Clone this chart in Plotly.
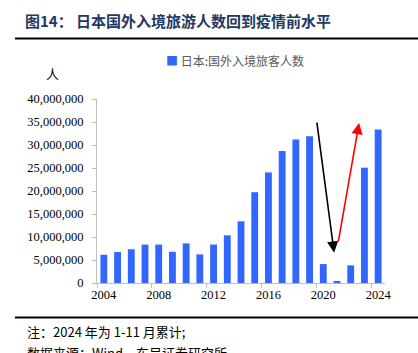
import plotly.graph_objects as go

years = list(range(2004, 2025))
visitors = [6138000, 6728000, 7334000, 8347000, 8351000, 6790000, 8611000, 6219000,
            8358000, 10364000, 13413000, 19737000, 24040000, 28691000, 31192000,
            31882000, 4116000, 246000, 3832000, 25066000, 33380000]
tick_years = [2004, 2008, 2012, 2016, 2020, 2024]
boundary_ticks = [2003.5, 2007.5, 2011.5, 2015.5, 2019.5, 2023.5]
y_ticks = list(range(0, 40000001, 5000000))
y_ticktext = [f"{v:,}" for v in y_ticks]

# arrow endpoints (tail -> head) in data coordinates
down_arrow = dict(x0=2019.52, y0=35200000, x1=2020.79, y1=6600000)
up_arrow = dict(x0=2021.08, y0=8700000, x1=2022.61, y1=34800000)

W, H = 418, 353
L, R, T, B = 97, 33, 99, 70
pw, ph = W - L - R, H - T - B
SERIF = "Liberation Serif, Times New Roman, serif"

def px(x):
    return (x - L) / pw

def py(y):
    return (H - B - y) / ph

fig = go.Figure()
fig.add_trace(go.Bar(x=years, y=visitors, width=0.5, marker_color="#3366FF",
                     marker_line_width=0, name="日本:国外入境旅客人数", showlegend=False))

fig.update_layout(
    width=W, height=H,
    margin=dict(l=L, r=R, t=T, b=B),
    paper_bgcolor="white", plot_bgcolor="white",
    font=dict(family=SERIF, size=12, color="black"),
    title=dict(text="<b>图14： 日本国外入境旅游人数回到疫情前水平</b>",
               xref="container", yref="container", x=25 / W, xanchor="left",
               y=1 - 22 / H, yanchor="middle",
               font=dict(family="Noto Sans CJK SC", size=15, color="#1F3864")),
    xaxis=dict(range=[2003.5, 2024.5], tickvals=tick_years, ticks="",
               showline=True, linecolor="#BFBFBF", linewidth=1, showgrid=False,
               zeroline=False, tickfont=dict(family=SERIF, size=12.5, color="black"),
               minor=dict(tickvals=boundary_ticks, ticks="outside", ticklen=4,
                          tickcolor="#BFBFBF", showgrid=False)),
    yaxis=dict(range=[0, 40000000], tickvals=y_ticks, ticktext=y_ticktext,
               ticks="outside", ticklen=4, tickcolor="#BFBFBF",
               showline=True, linecolor="#BFBFBF", linewidth=1, showgrid=False,
               zeroline=False, tickfont=dict(family=SERIF, size=12.5, color="black"),
               ticklabelstandoff=6),
)

for arr, color, w in [(down_arrow, "black", 1.6), (up_arrow, "red", 1.6)]:
    fig.add_annotation(x=arr["x1"], y=arr["y1"], ax=arr["x0"], ay=arr["y0"],
                       xref="x", yref="y", axref="x", ayref="y", text="",
                       showarrow=True, arrowhead=2, arrowsize=1.4, arrowwidth=w,
                       arrowcolor=color, standoff=0)

fig.add_annotation(x=px(52), y=py(73), xref="paper", yref="paper", text="人",
                   showarrow=False, xanchor="center", yanchor="middle",
                   font=dict(family="Noto Sans CJK SC", size=13, color="black"))
fig.add_annotation(x=px(164), y=py(61), xref="paper", yref="paper",
                   text="<span style='color:#3366FF'>■</span> 日本:国外入境旅客人数",
                   showarrow=False, xanchor="left", yanchor="middle",
                   font=dict(family="Noto Sans CJK SC", size=12, color="#595959"))
fig.add_annotation(x=px(25), y=py(331), xref="paper", yref="paper",
                   text="注：2024 年为 1-11 月累计;",
                   showarrow=False, xanchor="left", yanchor="middle",
                   font=dict(family="Noto Sans CJK SC", size=13, color="black"))
fig.add_annotation(x=px(25), y=py(352), xref="paper", yref="paper",
                   text="数据来源：Wind，东吴证券研究所",
                   showarrow=False, xanchor="left", yanchor="middle",
                   font=dict(family="Noto Sans CJK SC", size=13, color="black"))

fig.add_shape(type="line", xref="paper", yref="paper", x0=px(15), x1=px(418),
              y0=py(38.5), y1=py(38.5), line=dict(color="black", width=2))
fig.add_shape(type="line", xref="paper", yref="paper", x0=px(15), x1=px(418),
              y0=py(317.5), y1=py(317.5), line=dict(color="black", width=2))

fig.write_html("out.html")
